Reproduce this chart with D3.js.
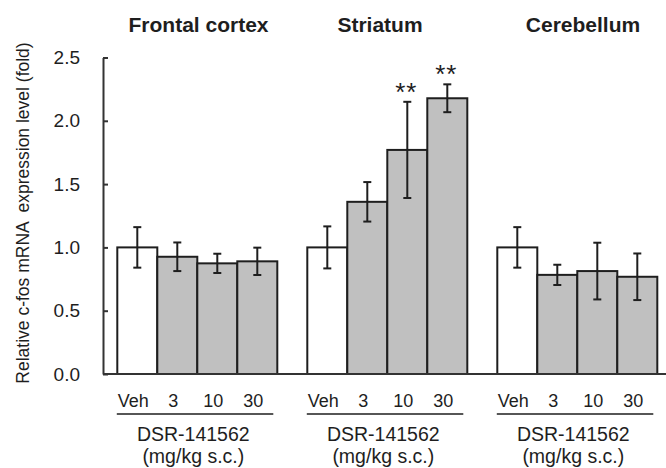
<!DOCTYPE html>
<html>
<head>
<meta charset="utf-8">
<script src="https://cdn.jsdelivr.net/npm/d3@7"></script>
<style>
  body { margin: 0; background: #fff; }
  svg { display: block; font-family: "Liberation Sans", Arial, sans-serif; }
</style>
</head>
<body>
<svg width="666" height="468"></svg>
<script>
// data
var regions = ["Frontal cortex", "Striatum", "Cerebellum"];
var doses = ["Veh", "3", "10", "30"];
var frontalMean = [1.0, 0.926, 0.874, 0.89];
var frontalErr = [0.16, 0.113, 0.076, 0.108];
var striatumMean = [1.0, 1.36, 1.77, 2.178];
var striatumErr = [0.166, 0.156, 0.38, 0.11];
var cerebellumMean = [1.0, 0.783, 0.813, 0.768];
var cerebellumErr = [0.16, 0.08, 0.224, 0.184];
var striatumStars = ["", "", "**", "**"];
var yTicks = [0, 0.5, 1.0, 1.5, 2.0, 2.5];

var means = [frontalMean, striatumMean, cerebellumMean];
var errs = [frontalErr, striatumErr, cerebellumErr];
var stars = [["", "", "", ""], striatumStars, ["", "", "", ""]];

var rows = [];
regions.forEach(function(r, i) {
  doses.forEach(function(d, j) {
    rows.push({region: r, dose: d, mean: means[i][j], err: errs[i][j], star: stars[i][j]});
  });
});

var svg = d3.select("svg");
var axisX = 103, bottom = 374;

var y = d3.scaleLinear().domain([0, 2.5]).range([bottom, 57.5]);

var x0 = d3.scaleBand()
    .domain(regions)
    .range([102.3, 672.3])
    .paddingInner(30 / 190)
    .paddingOuter(15 / 190);

var x1 = d3.scaleBand()
    .domain(doses)
    .range([0, x0.bandwidth()]);

// bars
var g = svg.append("g");
g.selectAll("rect")
    .data(rows)
  .enter().append("rect")
    .attr("x", d => x0(d.region) + x1(d.dose))
    .attr("y", d => y(d.mean))
    .attr("width", x1.bandwidth())
    .attr("height", d => bottom - y(d.mean))
    .attr("fill", d => d.dose == "Veh" ? "#ffffff" : "#c0c0c0")
    .attr("stroke", "#1e1e1e")
    .attr("stroke-width", 2);

// error bars
var eb = g.selectAll(".eb")
    .data(rows)
  .enter().append("g")
    .attr("class", "eb")
    .attr("transform", d => "translate(" + (x0(d.region) + x1(d.dose) + x1.bandwidth() / 2) + ",0)")
    .attr("stroke", "#1e1e1e")
    .attr("stroke-width", 2);
eb.append("line")
    .attr("y1", d => y(d.mean + d.err))
    .attr("y2", d => y(d.mean - d.err));
eb.append("line")
    .attr("x1", -4).attr("x2", 4)
    .attr("y1", d => y(d.mean + d.err))
    .attr("y2", d => y(d.mean + d.err));
eb.append("line")
    .attr("x1", -4).attr("x2", 4)
    .attr("y1", d => y(d.mean - d.err))
    .attr("y2", d => y(d.mean - d.err));

// significance stars
g.selectAll(".star")
    .data(rows.filter(d => d.star))
  .enter().append("text")
    .attr("class", "star")
    .attr("x", d => x0(d.region) + x1(d.dose) + x1.bandwidth() / 2 - 1)
    .attr("y", d => y(d.mean + d.err) - 1)
    .attr("text-anchor", "middle")
    .attr("font-size", 26)
    .attr("letter-spacing", 1)
    .attr("fill", "#1e1e1e")
    .text(d => d.star);

// y axis, ticks pointing inward
var yAxis = svg.append("g")
    .attr("transform", "translate(" + axisX + ",0)")
    .call(d3.axisLeft(y).tickValues(yTicks).tickFormat(d3.format(".1f"))
      .tickSizeInner(-5).tickSizeOuter(0).tickPadding(23));
yAxis.select(".domain").attr("stroke", "#333").attr("stroke-width", 2);
yAxis.selectAll(".tick line").attr("stroke", "#333").attr("stroke-width", 2);
yAxis.selectAll(".tick text")
    .attr("font-size", 19)
    .attr("font-family", "Liberation Sans, Arial, sans-serif")
    .attr("fill", "#1e1e1e");

// baseline
svg.append("line")
    .attr("x1", axisX).attr("x2", 666)
    .attr("y1", bottom).attr("y2", bottom)
    .attr("stroke", "#333").attr("stroke-width", 2);

// y title
svg.append("text")
    .attr("transform", "translate(29,213) rotate(-90)")
    .attr("text-anchor", "middle")
    .attr("font-size", 17.5)
    .attr("fill", "#1e1e1e")
    .style("white-space", "pre")
    .text("Relative c-fos mRNA  expression level (fold)");

// region titles
var titleX = [198.5, 380, 583];
svg.selectAll(".title")
    .data(regions)
  .enter().append("text")
    .attr("class", "title")
    .attr("x", (d, i) => titleX[i])
    .attr("y", 32)
    .attr("text-anchor", "middle")
    .attr("font-size", 21)
    .attr("font-weight", "bold")
    .attr("fill", "#1e1e1e")
    .text(d => d);

// dose labels + underline + drug label
var lab = svg.selectAll(".grp")
    .data(regions)
  .enter().append("g")
    .attr("class", "grp")
    .attr("transform", d => "translate(" + x0(d) + ",0)");
lab.selectAll(".dose")
    .data(doses)
  .enter().append("text")
    .attr("x", d => x1(d) + x1.bandwidth() / 2 - 4)
    .attr("y", 407)
    .attr("text-anchor", "middle")
    .attr("font-size", 18)
    .attr("fill", "#1e1e1e")
    .text(d => d);
lab.append("line")
    .attr("x1", -0.5).attr("x2", x0.bandwidth() - 4)
    .attr("y1", 414).attr("y2", 414)
    .attr("stroke", "#1e1e1e").attr("stroke-width", 1.6);
lab.append("text")
    .attr("x", x0.bandwidth() / 2 - 4)
    .attr("y", 441)
    .attr("text-anchor", "middle")
    .attr("font-size", 19.5)
    .attr("fill", "#1e1e1e")
    .text("DSR-141562");
lab.append("text")
    .attr("x", x0.bandwidth() / 2 - 4)
    .attr("y", 463)
    .attr("text-anchor", "middle")
    .attr("font-size", 19.5)
    .attr("fill", "#1e1e1e")
    .text("(mg/kg s.c.)");
</script>
</body>
</html>
